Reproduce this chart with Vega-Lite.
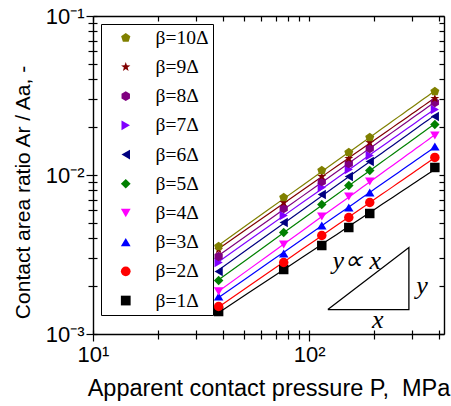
{
  "$schema": "https://vega.github.io/schema/vega-lite/v6.json",
  "width": 351,
  "height": 318,
  "autosize": {"type": "none"},
  "padding": {"left": 93, "top": 16, "right": 7, "bottom": 72},
  "background": "white",
  "datasets": {
    "pts": [
      {"s": "β=1Δ", "P": 38.1, "r": 0.001385}, {"s": "β=1Δ", "P": 76.2, "r": 0.002545}, {"s": "β=1Δ", "P": 114.3, "r": 0.003602}, {"s": "β=1Δ", "P": 152.4, "r": 0.004675}, {"s": "β=1Δ", "P": 190.5, "r": 0.005727}, {"s": "β=1Δ", "P": 381, "r": 0.01115},
      {"s": "β=2Δ", "P": 38.1, "r": 0.001489}, {"s": "β=2Δ", "P": 76.2, "r": 0.002817}, {"s": "β=2Δ", "P": 114.3, "r": 0.004164}, {"s": "β=2Δ", "P": 152.4, "r": 0.005404}, {"s": "β=2Δ", "P": 190.5, "r": 0.006714}, {"s": "β=2Δ", "P": 381, "r": 0.01289},
      {"s": "β=3Δ", "P": 38.1, "r": 0.001721}, {"s": "β=3Δ", "P": 76.2, "r": 0.003209}, {"s": "β=3Δ", "P": 114.3, "r": 0.004812}, {"s": "β=3Δ", "P": 152.4, "r": 0.006247}, {"s": "β=3Δ", "P": 190.5, "r": 0.00776}, {"s": "β=3Δ", "P": 381, "r": 0.01511},
      {"s": "β=4Δ", "P": 38.1, "r": 0.001851}, {"s": "β=4Δ", "P": 76.2, "r": 0.003655}, {"s": "β=4Δ", "P": 114.3, "r": 0.005483}, {"s": "β=4Δ", "P": 152.4, "r": 0.007324}, {"s": "β=4Δ", "P": 190.5, "r": 0.0091}, {"s": "β=4Δ", "P": 381, "r": 0.01772},
      {"s": "β=5Δ", "P": 38.1, "r": 0.00217}, {"s": "β=5Δ", "P": 76.2, "r": 0.004349}, {"s": "β=5Δ", "P": 114.3, "r": 0.006524}, {"s": "β=5Δ", "P": 152.4, "r": 0.00859}, {"s": "β=5Δ", "P": 190.5, "r": 0.01067}, {"s": "β=5Δ", "P": 381, "r": 0.02078},
      {"s": "β=6Δ", "P": 38.1, "r": 0.002472}, {"s": "β=6Δ", "P": 76.2, "r": 0.005027}, {"s": "β=6Δ", "P": 114.3, "r": 0.00754}, {"s": "β=6Δ", "P": 152.4, "r": 0.00979}, {"s": "β=6Δ", "P": 190.5, "r": 0.01216}, {"s": "β=6Δ", "P": 381, "r": 0.02333},
      {"s": "β=7Δ", "P": 38.1, "r": 0.002817}, {"s": "β=7Δ", "P": 76.2, "r": 0.005563}, {"s": "β=7Δ", "P": 114.3, "r": 0.00834}, {"s": "β=7Δ", "P": 152.4, "r": 0.01083}, {"s": "β=7Δ", "P": 190.5, "r": 0.01327}, {"s": "β=7Δ", "P": 381, "r": 0.02582},
      {"s": "β=8Δ", "P": 38.1, "r": 0.003073}, {"s": "β=8Δ", "P": 76.2, "r": 0.006157}, {"s": "β=8Δ", "P": 114.3, "r": 0.0091}, {"s": "β=8Δ", "P": 152.4, "r": 0.01181}, {"s": "β=8Δ", "P": 190.5, "r": 0.01468}, {"s": "β=8Δ", "P": 381, "r": 0.02858},
      {"s": "β=9Δ", "P": 38.1, "r": 0.003399}, {"s": "β=9Δ", "P": 76.2, "r": 0.006714}, {"s": "β=9Δ", "P": 114.3, "r": 0.00979}, {"s": "β=9Δ", "P": 152.4, "r": 0.0127}, {"s": "β=9Δ", "P": 190.5, "r": 0.01601}, {"s": "β=9Δ", "P": 381, "r": 0.03028},
      {"s": "β=10Δ", "P": 38.1, "r": 0.003551}, {"s": "β=10Δ", "P": 76.2, "r": 0.007219}, {"s": "β=10Δ", "P": 114.3, "r": 0.01067}, {"s": "β=10Δ", "P": 152.4, "r": 0.01385}, {"s": "β=10Δ", "P": 190.5, "r": 0.01721}, {"s": "β=10Δ", "P": 381, "r": 0.0335}
    ],
    "tri": [
      {"i": 0, "P": 121.9, "r": 0.001425},
      {"i": 1, "P": 289, "r": 0.001425},
      {"i": 2, "P": 289, "r": 0.0035},
      {"i": 3, "P": 121.9, "r": 0.001425}
    ],
    "ann": [
      {"t": "y∝ x", "P": 166, "r": 0.00286},
      {"t": "y", "P": 332, "r": 0.00199},
      {"t": "x", "P": 207.5, "r": 0.00123}
    ]
  },
  "resolve": {"axis": {"x": "independent", "y": "independent"}},
  "layer": [
    {
      "data": {"name": "pts"},
      "transform": [{"regression": "r", "on": "P", "groupby": ["s"], "method": "pow", "extent": [38.1, 381]}],
      "mark": {"type": "line", "strokeWidth": 1.2},
      "encoding": {
        "x": {
          "field": "P", "type": "quantitative",
          "scale": {"type": "log", "domain": [10, 420], "nice": false, "zero": false},
          "axis": {
            "orient": "bottom",
            "values": [10, 20, 30, 40, 50, 60, 70, 80, 90, 100, 200, 300, 400],
            "labelExpr": "datum.value == 10 ? '10¹' : datum.value == 100 ? '10²' : ''",
            "tickSize": {"condition": {"test": "datum.value == 10 || datum.value == 100", "value": 7}, "value": 5},
            "labelOverlap": false, "labelFlush": false,
            "labelFontSize": 22, "labelPadding": 3,
            "title": "Apparent contact pressure P,\u00a0 MPa",
            "titleFontSize": 23.5, "titlePadding": 11
          }
        },
        "y": {
          "field": "r", "type": "quantitative",
          "scale": {"type": "log", "domain": [0.001, 0.1], "nice": false, "zero": false},
          "axis": {
            "orient": "left",
            "values": [0.001, 0.002, 0.003, 0.004, 0.005, 0.006, 0.007, 0.008, 0.009, 0.01, 0.02, 0.03, 0.04, 0.05, 0.06, 0.07, 0.08, 0.09, 0.1],
            "labelExpr": "datum.value == 0.001 ? '10⁻³' : datum.value == 0.01 ? '10⁻²' : datum.value == 0.1 ? '10⁻¹' : ''",
            "tickSize": {"condition": {"test": "datum.value == 0.001 || datum.value == 0.01 || datum.value == 0.1", "value": 7}, "value": 5},
            "labelOverlap": false, "labelFlush": false,
            "labelFontSize": 22, "labelPadding": 2,
            "title": "Contact area ratio Ar / Aa, -",
            "titleFontSize": 21, "titlePadding": 12, "titleY": 176
          }
        },
        "stroke": {
          "field": "s", "type": "nominal",
          "scale": {
            "domain": ["β=1Δ", "β=2Δ", "β=3Δ", "β=4Δ", "β=5Δ", "β=6Δ", "β=7Δ", "β=8Δ", "β=9Δ", "β=10Δ"],
            "range": ["#000000", "#FF0000", "#0000FF", "#FF00FF", "#008000", "#000080", "#8000FF", "#800080", "#800000", "#808000"]
          },
          "legend": null
        }
      }
    },
    {
      "data": {"name": "pts"},
      "mark": {"type": "point", "filled": true, "size": 90, "opacity": 1},
      "encoding": {
        "x": {
          "field": "P", "type": "quantitative",
          "scale": {"type": "log", "domain": [10, 420], "nice": false, "zero": false},
          "axis": {
            "orient": "top",
            "values": [10, 20, 30, 40, 50, 60, 70, 80, 90, 100, 200, 300, 400],
            "labels": false, "title": null, "tickSize": -5
          }
        },
        "y": {
          "field": "r", "type": "quantitative",
          "scale": {"type": "log", "domain": [0.001, 0.1], "nice": false, "zero": false},
          "axis": {
            "orient": "right",
            "values": [0.001, 0.002, 0.003, 0.004, 0.005, 0.006, 0.007, 0.008, 0.009, 0.01, 0.02, 0.03, 0.04, 0.05, 0.06, 0.07, 0.08, 0.09, 0.1],
            "labels": false, "title": null, "tickSize": -5
          }
        },
        "color": {
          "field": "s", "type": "nominal",
          "scale": {
            "domain": ["β=10Δ", "β=9Δ", "β=8Δ", "β=7Δ", "β=6Δ", "β=5Δ", "β=4Δ", "β=3Δ", "β=2Δ", "β=1Δ"],
            "range": ["#808000", "#800000", "#800080", "#8000FF", "#000080", "#008000", "#FF00FF", "#0000FF", "#FF0000", "#000000"]
          },
          "legend": {"title": null, "orient": "none", "legendX": 8, "legendY": 8}
        },
        "shape": {
          "field": "s", "type": "nominal",
          "scale": {
            "domain": ["β=10Δ", "β=9Δ", "β=8Δ", "β=7Δ", "β=6Δ", "β=5Δ", "β=4Δ", "β=3Δ", "β=2Δ", "β=1Δ"],
            "range": [
              "M0,-1L0.951,-0.309L0.588,0.809L-0.588,0.809L-0.951,-0.309Z",
              "M0,-1L0.235,-0.324L0.951,-0.309L0.38,0.124L0.588,0.809L0,0.4L-0.588,0.809L-0.38,0.124L-0.951,-0.309L-0.235,-0.324Z",
              "M0,-1L0.866,-0.5L0.866,0.5L0,1L-0.866,0.5L-0.866,-0.5Z",
              "triangle-right", "triangle-left", "diamond", "triangle-down", "triangle-up", "circle", "square"
            ]
          },
          "legend": {"title": null, "orient": "none", "legendX": 8, "legendY": 8}
        }
      }
    },
    {
      "data": {"name": "ann"},
      "mark": {"type": "text", "font": "Liberation Serif", "fontStyle": "italic", "fontSize": 26, "align": "center", "baseline": "middle", "color": "black"},
      "encoding": {
        "x": {
          "field": "P", "type": "quantitative",
          "scale": {"type": "log", "domain": [10, 420], "nice": false, "zero": false},
          "axis": {
            "orient": "bottom",
            "values": [10, 20, 30, 40, 50, 60, 70, 80, 90, 100, 200, 300, 400],
            "labels": false, "title": null, "domain": false, "tickSize": -4
          }
        },
        "y": {
          "field": "r", "type": "quantitative",
          "scale": {"type": "log", "domain": [0.001, 0.1], "nice": false, "zero": false},
          "axis": {
            "orient": "left",
            "values": [0.001, 0.002, 0.003, 0.004, 0.005, 0.006, 0.007, 0.008, 0.009, 0.01, 0.02, 0.03, 0.04, 0.05, 0.06, 0.07, 0.08, 0.09, 0.1],
            "labels": false, "title": null, "domain": false, "tickSize": -4
          }
        },
        "text": {"field": "t", "type": "nominal"}
      }
    },
    {
      "data": {"name": "tri"},
      "mark": {"type": "line", "color": "black", "strokeWidth": 1.3},
      "encoding": {
        "x": {"field": "P", "type": "quantitative", "scale": {"type": "log", "domain": [10, 420], "nice": false, "zero": false}, "axis": null},
        "y": {"field": "r", "type": "quantitative", "scale": {"type": "log", "domain": [0.001, 0.1], "nice": false, "zero": false}, "axis": null},
        "order": {"field": "i", "type": "quantitative"}
      }
    }
  ],
  "config": {
    "view": {"stroke": null},
    "legend": {
      "strokeColor": "black", "fillColor": "white", "padding": 4,
      "symbolOffset": 11, "labelOffset": 20, "rowPadding": 8.2,
      "labelFont": "Liberation Serif", "labelFontSize": 19.5, "labelColor": "black",
      "symbolSize": 95, "symbolStrokeWidth": 0
    },
    "axis": {
      "grid": false,
      "domainColor": "black", "domainWidth": 1.4,
      "tickColor": "black", "tickWidth": 1.2,
      "labelColor": "black", "titleColor": "black",
      "labelFont": "Liberation Sans", "titleFont": "Liberation Sans",
      "titleFontWeight": "normal"
    }
  }
}
